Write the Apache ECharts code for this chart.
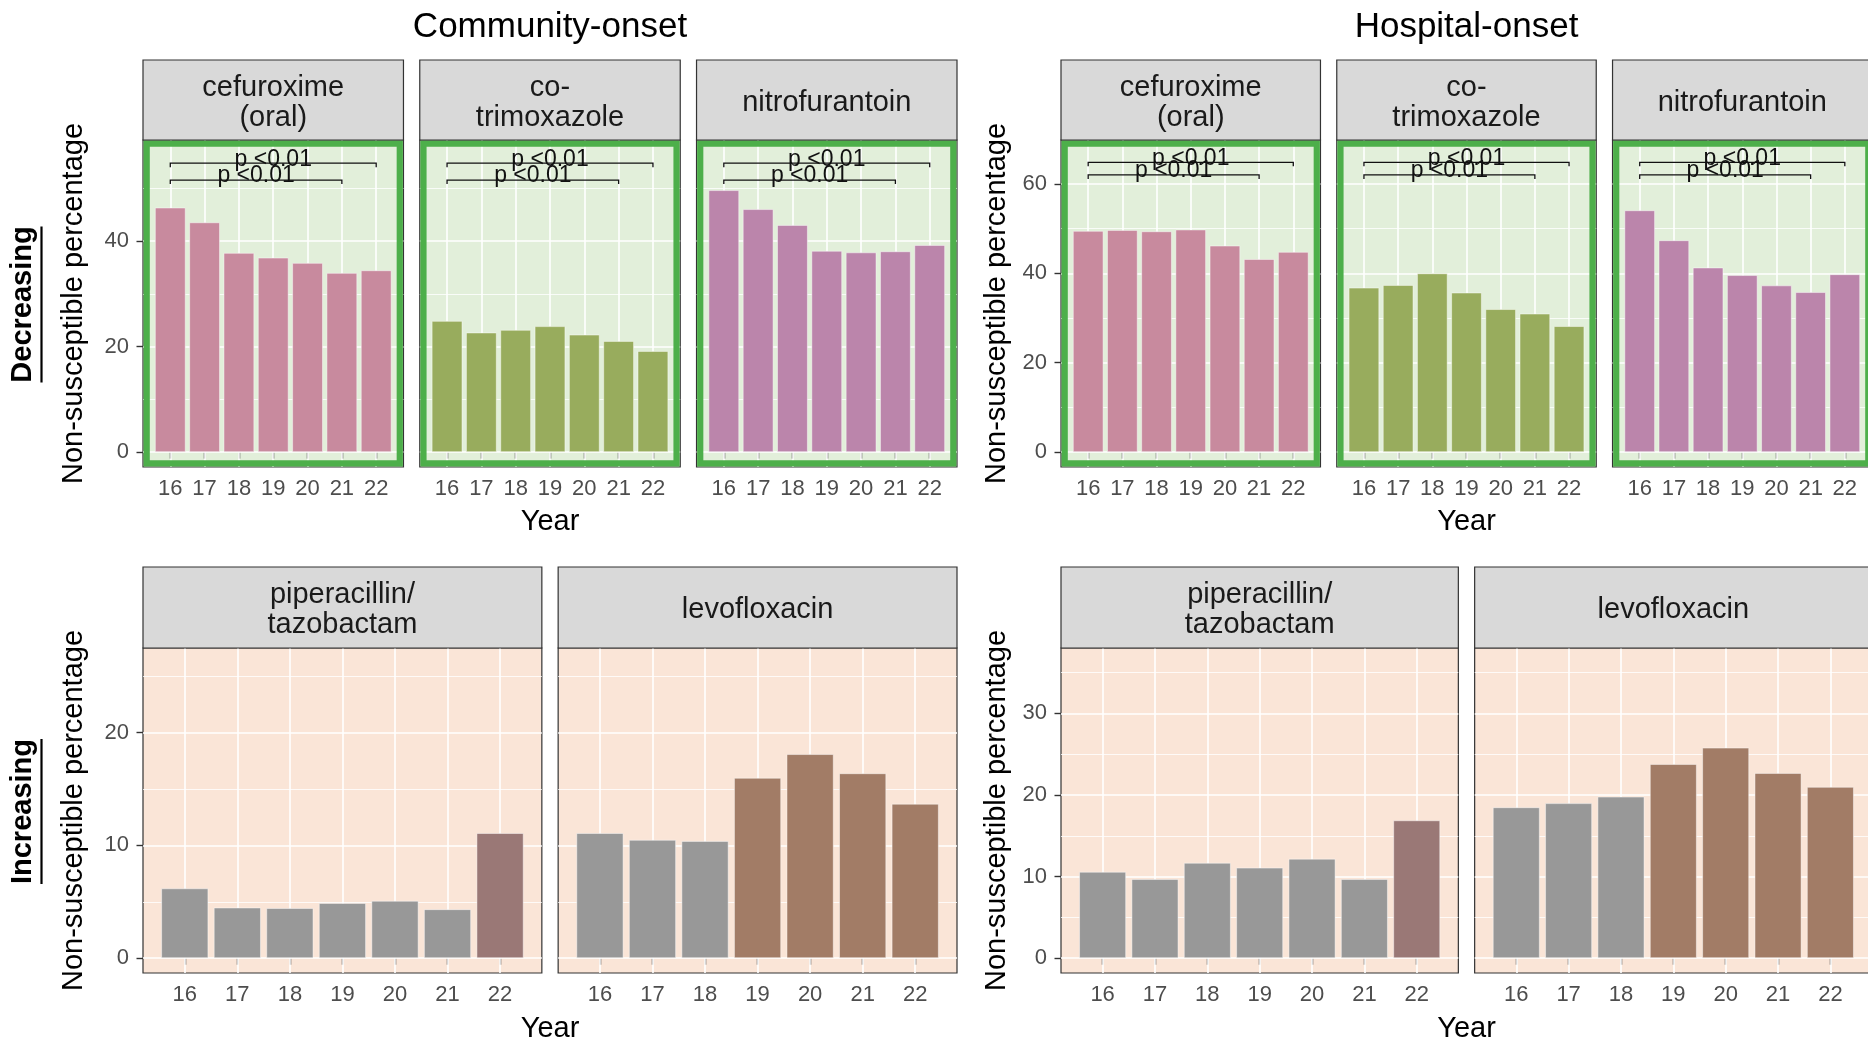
<!DOCTYPE html>
<html>
<head>
<meta charset="utf-8">
<script src="https://cdn.jsdelivr.net/npm/echarts@6.0.0/dist/echarts.min.js"></script>
<style>
html,body{margin:0;padding:0;background:#ffffff;}
#chart{width:1868px;height:1039px;}
</style>
</head>
<body>
<div id="chart"></div>
<script>
// ---------------- data ----------------
const years = [16, 17, 18, 19, 20, 21, 22];

// Decreasing trend (non-susceptible %)
const coCefuroxime     = [46.4, 43.6, 37.8, 36.9, 35.9, 34.0, 34.5];
const coCotrimoxazole  = [24.9, 22.7, 23.2, 23.9, 22.3, 21.1, 19.2];
const coNitrofurantoin = [49.7, 46.1, 43.1, 38.2, 37.9, 38.1, 39.3];
const hoCefuroxime     = [49.5, 49.7, 49.4, 49.8, 46.2, 43.2, 44.8];
const hoCotrimoxazole  = [36.8, 37.4, 40.0, 35.7, 32.0, 31.0, 28.2];
const hoNitrofurantoin = [54.1, 47.4, 41.3, 39.6, 37.3, 35.8, 39.8];

// Increasing trend (non-susceptible %)
const coPiperacillin   = [6.2, 4.5, 4.45, 4.9, 5.1, 4.35, 11.1];
const coLevofloxacin   = [11.1, 10.5, 10.4, 16.0, 18.1, 16.4, 13.7];
const hoPiperacillin   = [10.6, 9.7, 11.7, 11.1, 12.2, 9.7, 16.9];
const hoLevofloxacin   = [18.5, 19.0, 19.8, 23.8, 25.8, 22.7, 21.0];

// years highlighted (coloured) in the increasing panels
const coPiperacillinFlag = [0, 0, 0, 0, 0, 0, 1];
const coLevofloxacinFlag = [0, 0, 0, 1, 1, 1, 1];
const hoPiperacillinFlag = [0, 0, 0, 0, 0, 0, 1];
const hoLevofloxacinFlag = [0, 0, 0, 1, 1, 1, 1];

// significance brackets (decreasing panels)
const bracketFrom   = [16, 16];
const bracketTo     = [22, 21];
const bracketLabels = ['p <0.01', 'p <0.01'];
const coBracketY    = [54.8, 51.6];
const hoBracketY    = [64.8, 62.0];

// axis ticks / limits
const coDecTicks = [0, 20, 40];      const coDecMinor = [10, 30, 50];
const hoDecTicks = [0, 20, 40, 60];  const hoDecMinor = [10, 30, 50];
const coIncTicks = [0, 10, 20];      const coIncMinor = [5, 15, 25];
const hoIncTicks = [0, 10, 20, 30];  const hoIncMinor = [5, 15, 25, 35];
const coDecRange = [-2.82, 59.2];
const hoDecRange = [-3.32, 69.8];
const coIncRange = [-1.31, 27.5];
const hoIncRange = [-1.81, 38.0];
const xRange     = [15.205, 22.795];

const groupTitles = ['Community-onset', 'Hospital-onset'];
const rowTitles   = ['Decreasing', 'Increasing'];
const yTitle = 'Non-susceptible percentage';
const xTitle = 'Year';
const decLabels = ['cefuroxime\n(oral)', 'co-\ntrimoxazole', 'nitrofurantoin'];
const incLabels = ['piperacillin/\ntazobactam', 'levofloxacin'];

// ---------------- styles ----------------
const FONT = '"Liberation Sans", Arial, Helvetica, sans-serif';
const decColors = ['#C88A9E', '#98AC5D', '#BB85AB'];
const incGrey = '#989898';
const incColors = ['#9A7876', '#A27C66'];
const decBg = '#E2EFDA', incBg = '#FAE5D7', greenEdge = '#4DAF4A';
const stripFill = '#D9D9D9', frame = '#333333';

// ---------------- layout ----------------
const groups = [{left: 143, right: 957}, {left: 1061, right: 1872}];
const topRow = {stripTop: 60, stripH: 80, panelTop: 140, panelH: 327};
const botRow = {stripTop: 567, stripH: 81, panelTop: 648, panelH: 325};
const gap = 16.3;

const panels = [];
const decData = [[coCefuroxime, coCotrimoxazole, coNitrofurantoin],
                 [hoCefuroxime, hoCotrimoxazole, hoNitrofurantoin]];
const incData = [[coPiperacillin, coLevofloxacin], [hoPiperacillin, hoLevofloxacin]];
const incFlags = [[coPiperacillinFlag, coLevofloxacinFlag], [hoPiperacillinFlag, hoLevofloxacinFlag]];
const decTicks = [coDecTicks, hoDecTicks], decMinor = [coDecMinor, hoDecMinor];
const incTicks = [coIncTicks, hoIncTicks], incMinor = [coIncMinor, hoIncMinor];
const decRange = [coDecRange, hoDecRange], incRange = [coIncRange, hoIncRange];
const bracketYs = [coBracketY, hoBracketY];

for (let g = 0; g < 2; g++) {
  const span = groups[g].right - groups[g].left;
  const w3 = (span - 2 * gap) / 3;
  for (let k = 0; k < 3; k++) {
    panels.push({
      row: 0, group: g, left: groups[g].left + k * (w3 + gap), width: w3,
      ...topRow, label: decLabels[k], values: decData[g][k],
      colors: years.map(() => decColors[k]),
      range: decRange[g], ticks: decTicks[g], minor: decMinor[g], showY: k === 0,
      bg: decBg, brackets: bracketYs[g]
    });
  }
  const w2 = (span - gap) / 2;
  for (let k = 0; k < 2; k++) {
    panels.push({
      row: 1, group: g, left: groups[g].left + k * (w2 + gap), width: w2,
      ...botRow, label: incLabels[k], values: incData[g][k],
      colors: incFlags[g][k].map(f => f ? incColors[k] : incGrey),
      range: incRange[g], ticks: incTicks[g], minor: incMinor[g], showY: k === 0,
      bg: incBg, brackets: null
    });
  }
}

// ---------------- option ----------------
const grid = [], xAxis = [], yAxis = [], series = [], graphic = [];

panels.forEach((p, i) => {
  grid.push({
    left: p.left, top: p.panelTop, width: p.width, height: p.panelH,
    show: true, backgroundColor: p.bg, borderColor: frame, borderWidth: 1.2,
    containLabel: false, outerBoundsMode: 'none'
  });
  xAxis.push({
    type: 'value', gridIndex: i, min: xRange[0], max: xRange[1],
    axisLine: {show: false},
    axisTick: {show: true, customValues: years, length: 6.5, lineStyle: {color: frame, width: 1.4}},
    axisLabel: {show: true, customValues: years, color: '#4D4D4D', fontSize: 22,
                fontFamily: FONT, margin: 11, formatter: v => String(v)},
    splitLine: {show: false}
  });
  yAxis.push({
    type: 'value', gridIndex: i, min: p.range[0], max: p.range[1],
    axisLine: {show: false},
    axisTick: {show: p.showY, customValues: p.ticks, length: 6.5, lineStyle: {color: frame, width: 1.4}},
    axisLabel: {show: p.showY, customValues: p.ticks, color: '#4D4D4D', fontSize: 22,
                fontFamily: FONT, margin: 14, formatter: v => String(v)},
    splitLine: {show: false}
  });
  const unitPx = p.width / (xRange[1] - xRange[0]);
  const gridLines = []
    .concat(p.ticks.map(v => ({yAxis: v, lineStyle: {width: 1.6}})))
    .concat(p.minor.map(v => ({yAxis: v, lineStyle: {width: 0.8}})))
    .concat(years.map(v => ({xAxis: v, lineStyle: {width: 1.6}})));
  series.push({
    type: 'bar', xAxisIndex: i, yAxisIndex: i, silent: true, z: 2,
    barWidth: unitPx * 0.9,
    data: years.map((yr, k) => ({value: [yr, p.values[k]], itemStyle: {color: p.colors[k]}})),
    itemStyle: {borderColor: 'rgba(255,255,255,0.45)', borderWidth: 1},
    markLine: {
      silent: true, symbol: 'none', z: 1, animation: false,
      label: {show: false},
      lineStyle: {color: '#FFFFFF', type: 'solid', opacity: 1},
      emphasis: {disabled: true},
      data: gridLines
    }
  });
  if (p.brackets) {
    series.push({
      type: 'custom', xAxisIndex: i, yAxisIndex: i, silent: true, z: 5,
      data: bracketFrom.map((f, k) => [f, bracketTo[k], p.brackets[k]]),
      renderItem: function (params, api) {
        const a = api.coord([api.value(0), api.value(2)]);
        const b = api.coord([api.value(1), api.value(2)]);
        const drop = 4;
        return {
          type: 'group',
          children: [
            {type: 'polyline', shape: {points: [[a[0], a[1] + drop], [a[0], a[1]], [b[0], b[1]], [b[0], b[1] + drop]]},
             style: {stroke: '#111111', lineWidth: 1.3, fill: 'none'}},
            {type: 'text', x: (a[0] + b[0]) / 2, y: a[1] - 4,
             style: {text: bracketLabels[params.dataIndex], fill: '#111111',
                     font: '23px ' + FONT, align: 'center', verticalAlign: 'middle'}}
          ]
        };
      }
    });
    // green inner frame
    graphic.push({
      type: 'rect', z: 20, silent: true,
      shape: {x: p.left + 3.7, y: p.panelTop + 3.7, width: p.width - 7.4, height: p.panelH - 7.4},
      style: {fill: 'none', stroke: greenEdge, lineWidth: 6.2}
    });
  }
  // strip
  graphic.push({
    type: 'rect', z: 20, silent: true,
    shape: {x: p.left, y: p.stripTop, width: p.width, height: p.stripH},
    style: {fill: stripFill, stroke: frame, lineWidth: 1.2}
  });
  graphic.push({
    type: 'text', z: 21, silent: true,
    x: p.left + p.width / 2, y: p.stripTop + p.stripH / 2 + 2.5,
    style: {text: p.label, fill: '#1A1A1A', font: '29px ' + FONT, align: 'center',
            verticalAlign: 'middle', lineHeight: 30}
  });
});

// group titles, axis titles
const rowInfo = [topRow, botRow];
const yearY = [522, 1029];
const yTitleX = [74, 997];
groups.forEach((gr, g) => {
  const cx = (gr.left + gr.right) / 2;
  graphic.push({type: 'text', z: 21, silent: true, x: cx, y: 27,
    style: {text: groupTitles[g], fill: '#000000', font: '35px ' + FONT, align: 'center', verticalAlign: 'middle'}});
  for (let r = 0; r < 2; r++) {
    const ri = rowInfo[r];
    graphic.push({type: 'text', z: 21, silent: true, x: cx, y: yearY[r],
      style: {text: xTitle, fill: '#000000', font: '29px ' + FONT, align: 'center', verticalAlign: 'middle'}});
    graphic.push({type: 'text', z: 21, silent: true, x: yTitleX[g], y: ri.panelTop + ri.panelH / 2,
      rotation: Math.PI / 2,
      style: {text: yTitle, fill: '#000000', font: '29px ' + FONT, align: 'center', verticalAlign: 'middle'}});
  }
});
// row labels (bold, underlined)
const rowLabelLen = [156, 145];
rowTitles.forEach((t, r) => {
  const ri = rowInfo[r];
  const cy = ri.panelTop + ri.panelH / 2 + 1;
  graphic.push({type: 'text', z: 21, silent: true, x: 23, y: cy, rotation: Math.PI / 2,
    style: {text: t, fill: '#000000', font: 'bold 29px ' + FONT, align: 'center', verticalAlign: 'middle'}});
  graphic.push({type: 'line', z: 21, silent: true,
    shape: {x1: 41.5, y1: cy - rowLabelLen[r] / 2, x2: 41.5, y2: cy + rowLabelLen[r] / 2},
    style: {stroke: '#000000', lineWidth: 2.2}});
});

const option = {
  animation: false,
  backgroundColor: '#FFFFFF',
  textStyle: {fontFamily: FONT},
  grid, xAxis, yAxis, series,
  graphic: {elements: graphic}
};

const chart = echarts.init(document.getElementById('chart'), null, {renderer: 'canvas', width: 1868, height: 1039});
chart.setOption(option);
</script>
</body>
</html>
